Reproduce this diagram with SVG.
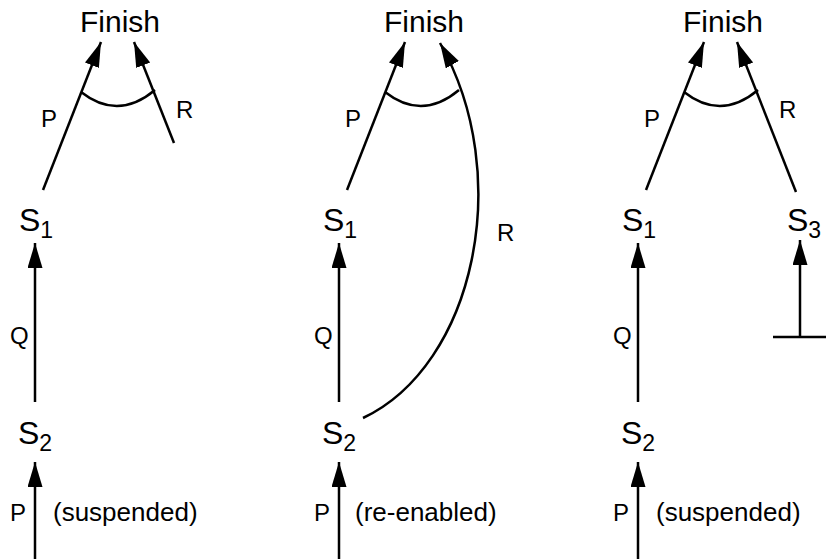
<svg xmlns="http://www.w3.org/2000/svg" width="826" height="559" viewBox="0 0 826 559">
<defs>
<style>
text { font-family: "Liberation Sans", Arial, sans-serif; fill: #000; }
.fin { font-size: 30px; text-anchor: middle; }
.st { font-size: 32px; }
.sub { font-size: 23px; }
.lbl { font-size: 24px; }
.par { font-size: 26px; }
.c { stroke: #000; stroke-width: 2.5; fill: none; }
</style>
<marker id="ah" markerUnits="userSpaceOnUse" markerWidth="26" markerHeight="16" refX="25" refY="7.5" orient="auto" viewBox="0 0 26 16">
<path d="M0,0 L25,7.5 L0,15 z" fill="#000"/>
</marker>
</defs>
<rect width="826" height="559" fill="#fff"/>

<g id="connectors">
<!-- panel 1 -->
<line class="c" x1="43" y1="190" x2="101" y2="42" marker-end="url(#ah)"/>
<line class="c" x1="174" y1="143" x2="134" y2="42" marker-end="url(#ah)"/>
<path class="c" d="M81,92 Q118,121 155,90"/>
<line class="c" x1="35" y1="402" x2="35" y2="243" marker-end="url(#ah)"/>
<line class="c" x1="35" y1="559" x2="35" y2="462" marker-end="url(#ah)"/>
<!-- panel 2 -->
<line class="c" x1="347" y1="190" x2="405" y2="42" marker-end="url(#ah)"/>
<path class="c" d="M363,418 C475,365 515,175 440,43" marker-end="url(#ah)"/>
<path class="c" d="M385,92 Q422,121 459,90"/>
<line class="c" x1="339" y1="402" x2="339" y2="243" marker-end="url(#ah)"/>
<line class="c" x1="339" y1="559" x2="339" y2="462" marker-end="url(#ah)"/>
<!-- panel 3 -->
<line class="c" x1="646" y1="190" x2="704" y2="42" marker-end="url(#ah)"/>
<line class="c" x1="796" y1="192" x2="737" y2="42" marker-end="url(#ah)"/>
<path class="c" d="M684,92 Q721,121 758,90"/>
<line class="c" x1="638" y1="402" x2="638" y2="243" marker-end="url(#ah)"/>
<line class="c" x1="638" y1="559" x2="638" y2="462" marker-end="url(#ah)"/>
<line class="c" x1="800" y1="337" x2="800" y2="240" marker-end="url(#ah)"/>
<line class="c" x1="773" y1="337" x2="826" y2="337"/>
</g>

<g id="labels">
<text class="lbl" x="41" y="127">P</text>
<text class="lbl" x="176" y="118">R</text>
<text class="lbl" x="10" y="344">Q</text>
<text class="lbl" x="10" y="521">P</text>
<text class="par" x="53" y="521">(suspended)</text>

<text class="lbl" x="345" y="127">P</text>
<text class="lbl" x="497" y="241">R</text>
<text class="lbl" x="314" y="344">Q</text>
<text class="lbl" x="314" y="521">P</text>
<text class="par" x="355" y="521">(re-enabled)</text>

<text class="lbl" x="644" y="127">P</text>
<text class="lbl" x="779" y="118">R</text>
<text class="lbl" x="613" y="344">Q</text>
<text class="lbl" x="613" y="521">P</text>
<text class="par" x="656" y="521">(suspended)</text>
</g>

<g id="finish1"><text class="fin" x="120" y="32">Finish</text></g>
<g id="s1a"><text class="st" x="19" y="231">S<tspan class="sub" dy="7">1</tspan></text></g>
<g id="s2a"><text class="st" x="18" y="444">S<tspan class="sub" dy="7">2</tspan></text></g>

<g id="finish2"><text class="fin" x="424" y="32">Finish</text></g>
<g id="s1b"><text class="st" x="323" y="231">S<tspan class="sub" dy="7">1</tspan></text></g>
<g id="s2b"><text class="st" x="322" y="444">S<tspan class="sub" dy="7">2</tspan></text></g>

<g id="finish3"><text class="fin" x="723" y="32">Finish</text></g>
<g id="s1c"><text class="st" x="622" y="231">S<tspan class="sub" dy="7">1</tspan></text></g>
<g id="s3c"><text class="st" x="787" y="231">S<tspan class="sub" dy="7">3</tspan></text></g>
<g id="s2c"><text class="st" x="621" y="444">S<tspan class="sub" dy="7">2</tspan></text></g>
</svg>
